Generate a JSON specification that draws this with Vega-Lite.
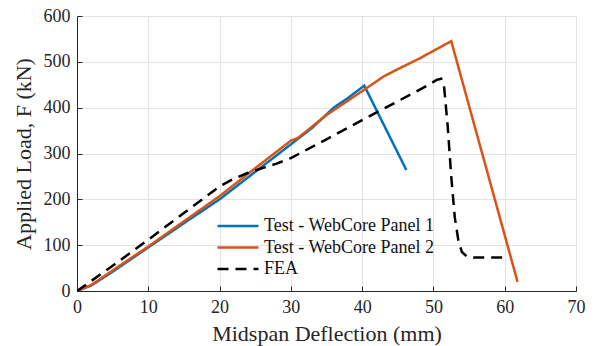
{
  "$schema": "https://vega.github.io/schema/vega-lite/v6.json",
  "width": 499,
  "height": 275,
  "autosize": "none",
  "padding": {"left": 77, "top": 16, "right": 22, "bottom": 55},
  "background": "white",
  "config": {
    "view": {"stroke": null},
    "font": "Liberation Serif",
    "axis": {
      "labelFont": "Liberation Serif",
      "titleFont": "Liberation Serif",
      "labelFontSize": 18,
      "titleFontSize": 22,
      "titleFontWeight": "normal",
      "labelColor": "#262626",
      "titleColor": "#262626",
      "domainColor": "#262626",
      "tickColor": "#262626",
      "gridColor": "#e3e3e3",
      "gridWidth": 1,
      "tickSize": -5,
      "labelFlush": false,
      "labelOverlap": false
    },
    "legend": {
      "labelFont": "Liberation Serif",
      "labelFontSize": 18,
      "labelColor": "#111111"
    }
  },
  "data": {
    "values": [
      {"s": "Test - WebCore Panel 1", "o": 0, "x": 0, "y": 0},
      {"s": "Test - WebCore Panel 1", "o": 1, "x": 2, "y": 12},
      {"s": "Test - WebCore Panel 1", "o": 2, "x": 5, "y": 42},
      {"s": "Test - WebCore Panel 1", "o": 3, "x": 10, "y": 95},
      {"s": "Test - WebCore Panel 1", "o": 4, "x": 15, "y": 148},
      {"s": "Test - WebCore Panel 1", "o": 5, "x": 20, "y": 200},
      {"s": "Test - WebCore Panel 1", "o": 6, "x": 25, "y": 260},
      {"s": "Test - WebCore Panel 1", "o": 7, "x": 30, "y": 320},
      {"s": "Test - WebCore Panel 1", "o": 8, "x": 33, "y": 356},
      {"s": "Test - WebCore Panel 1", "o": 9, "x": 36, "y": 400},
      {"s": "Test - WebCore Panel 1", "o": 10, "x": 38, "y": 421},
      {"s": "Test - WebCore Panel 1", "o": 11, "x": 40.3, "y": 448},
      {"s": "Test - WebCore Panel 1", "o": 12, "x": 46.2, "y": 264},
      {"s": "Test - WebCore Panel 2", "o": 0, "x": 0, "y": 0},
      {"s": "Test - WebCore Panel 2", "o": 1, "x": 2, "y": 13},
      {"s": "Test - WebCore Panel 2", "o": 2, "x": 5, "y": 45},
      {"s": "Test - WebCore Panel 2", "o": 3, "x": 10, "y": 97},
      {"s": "Test - WebCore Panel 2", "o": 4, "x": 15, "y": 152},
      {"s": "Test - WebCore Panel 2", "o": 5, "x": 20, "y": 207},
      {"s": "Test - WebCore Panel 2", "o": 6, "x": 25, "y": 268},
      {"s": "Test - WebCore Panel 2", "o": 7, "x": 30, "y": 328},
      {"s": "Test - WebCore Panel 2", "o": 8, "x": 31, "y": 334},
      {"s": "Test - WebCore Panel 2", "o": 9, "x": 35, "y": 384},
      {"s": "Test - WebCore Panel 2", "o": 10, "x": 40, "y": 436},
      {"s": "Test - WebCore Panel 2", "o": 11, "x": 43, "y": 468},
      {"s": "Test - WebCore Panel 2", "o": 12, "x": 45, "y": 484},
      {"s": "Test - WebCore Panel 2", "o": 13, "x": 48, "y": 507},
      {"s": "Test - WebCore Panel 2", "o": 14, "x": 50, "y": 524},
      {"s": "Test - WebCore Panel 2", "o": 15, "x": 52.5, "y": 545},
      {"s": "Test - WebCore Panel 2", "o": 16, "x": 61.8, "y": 20},
      {"s": "FEA", "o": 0, "x": 0, "y": 0},
      {"s": "FEA", "o": 1, "x": 2, "y": 22},
      {"s": "FEA", "o": 2, "x": 5, "y": 55},
      {"s": "FEA", "o": 3, "x": 10, "y": 112},
      {"s": "FEA", "o": 4, "x": 15, "y": 170},
      {"s": "FEA", "o": 5, "x": 20, "y": 228},
      {"s": "FEA", "o": 6, "x": 22, "y": 245},
      {"s": "FEA", "o": 7, "x": 24, "y": 258},
      {"s": "FEA", "o": 8, "x": 26, "y": 268},
      {"s": "FEA", "o": 9, "x": 28, "y": 278},
      {"s": "FEA", "o": 10, "x": 30, "y": 290},
      {"s": "FEA", "o": 11, "x": 35, "y": 331},
      {"s": "FEA", "o": 12, "x": 40, "y": 373},
      {"s": "FEA", "o": 13, "x": 45, "y": 414},
      {"s": "FEA", "o": 14, "x": 49, "y": 447},
      {"s": "FEA", "o": 15, "x": 50.5, "y": 461},
      {"s": "FEA", "o": 16, "x": 51.1, "y": 463},
      {"s": "FEA", "o": 17, "x": 51.5, "y": 445},
      {"s": "FEA", "o": 18, "x": 52.0, "y": 360},
      {"s": "FEA", "o": 19, "x": 52.5, "y": 250},
      {"s": "FEA", "o": 20, "x": 53.0, "y": 160},
      {"s": "FEA", "o": 21, "x": 53.5, "y": 110},
      {"s": "FEA", "o": 22, "x": 54.0, "y": 85},
      {"s": "FEA", "o": 23, "x": 54.7, "y": 75},
      {"s": "FEA", "o": 24, "x": 55.6, "y": 73},
      {"s": "FEA", "o": 25, "x": 60, "y": 73}
    ]
  },
  "mark": {"type": "line", "strokeWidth": 2.5, "clip": true},
  "encoding": {
    "x": {
      "field": "x", "type": "quantitative",
      "scale": {"domain": [0, 70], "nice": false},
      "axis": {
        "values": [0, 10, 20, 30, 40, 50, 60, 70],
        "title": "Midspan Deflection (mm)",
        "grid": true,
        "labelPadding": 12,
        "titlePadding": 7
      }
    },
    "y": {
      "field": "y", "type": "quantitative",
      "scale": {"domain": [0, 600], "nice": false},
      "axis": {
        "values": [0, 100, 200, 300, 400, 500, 600],
        "title": "Applied Load, F (kN)",
        "grid": true,
        "labelPadding": 12,
        "titlePadding": 8
      }
    },
    "order": {"field": "o", "type": "quantitative"},
    "color": {
      "field": "s", "type": "nominal",
      "scale": {"domain": ["Test - WebCore Panel 1", "Test - WebCore Panel 2", "FEA"], "range": ["#0072BD", "#D95319", "#000000"]},
      "legend": {
        "title": null,
        "orient": "none",
        "legendX": 152,
        "legendY": 201,
        "symbolType": "M-4,0H4",
        "symbolSize": 105,
        "symbolStrokeWidth": 2.5,
        "labelOffset": 17,
        "labelLimit": 0,
        "labelFontSize": 18,
        "rowPadding": 3.5
      }
    },
    "strokeDash": {
      "field": "s", "type": "nominal",
      "scale": {"domain": ["Test - WebCore Panel 1", "Test - WebCore Panel 2", "FEA"], "range": [[1, 0], [1, 0], [11, 7]]},
      "legend": {
        "title": null,
        "orient": "none",
        "legendX": 152,
        "legendY": 201,
        "symbolType": "M-4,0H4",
        "symbolSize": 105,
        "symbolStrokeWidth": 2.5,
        "labelOffset": 17,
        "labelLimit": 0,
        "labelFontSize": 18,
        "rowPadding": 3.5
      }
    }
  }
}
